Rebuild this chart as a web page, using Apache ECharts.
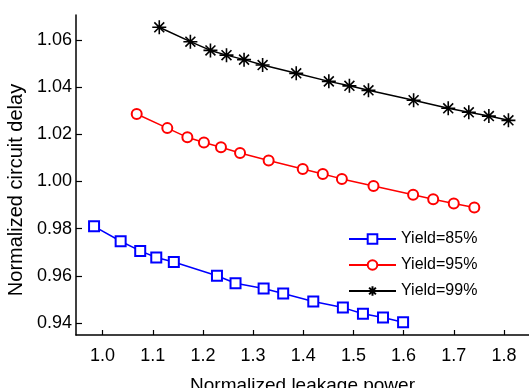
<!DOCTYPE html>
<html>
<head>
<meta charset="utf-8">
<script src="https://cdn.jsdelivr.net/npm/echarts@6/dist/echarts.min.js"></script>
<style>
  html, body { margin: 0; padding: 0; background: #fff; }
  #chart { width: 529px; height: 388px; }
</style>
</head>
<body>
<div id="chart"></div>
<script>
// values
const xTicks = [1.0, 1.1, 1.2, 1.3, 1.4, 1.5, 1.6, 1.7, 1.8];
const yTicks = [0.94, 0.96, 0.98, 1.00, 1.02, 1.04, 1.06];

const names = ['Yield=85%', 'Yield=95%', 'Yield=99%'];

const x85 = [0.983, 1.036, 1.075, 1.107, 1.142, 1.228, 1.265, 1.321, 1.360, 1.420, 1.479, 1.519, 1.559, 1.599];
const y85 = [0.9810, 0.9747, 0.9706, 0.9678, 0.9659, 0.9601, 0.9569, 0.9547, 0.9526, 0.9492, 0.9466, 0.9440, 0.9424, 0.9404];

const x95 = [1.068, 1.129, 1.169, 1.202, 1.236, 1.274, 1.331, 1.399, 1.439, 1.477, 1.540, 1.619, 1.659, 1.700, 1.741];
const y95 = [1.0286, 1.0226, 1.0187, 1.0165, 1.0145, 1.0121, 1.0089, 1.0053, 1.0032, 1.0011, 0.9981, 0.9944, 0.9925, 0.9907, 0.9890];

const x99 = [1.113, 1.175, 1.215, 1.247, 1.282, 1.319, 1.386, 1.451, 1.492, 1.530, 1.620, 1.689, 1.730, 1.770, 1.809];
const y99 = [1.0653, 1.0592, 1.0555, 1.0535, 1.0516, 1.0493, 1.0458, 1.0424, 1.0405, 1.0386, 1.0344, 1.0310, 1.0293, 1.0277, 1.0259];

const pairs = (xs, ys) => xs.map((x, i) => [x, ys[i]]);

const FONT = "'Liberation Sans', Arial, sans-serif";
// asterisk marker (+ and x overlaid)
const STAR = 'path://M0,-10L0,10M-10,0L10,0M-7.07,-7.07L7.07,7.07M-7.07,7.07L7.07,-7.07';

const chart = echarts.init(document.getElementById('chart'));

const axisCommon = {
  axisLine: { show: true, lineStyle: { color: '#000', width: 1.5 } },
  splitLine: { show: false },
};

chart.setOption({
  animation: false,
  backgroundColor: '#fff',
  // the figure is cropped at the bottom, so don't let ECharts shrink the grid
  grid: { left: 76, right: 0, top: 15, bottom: 53, containLabel: false, outerBoundsMode: 'none' },
  legend: {
    data: names,
    orient: 'vertical',
    left: 343,
    top: 226,
    itemWidth: 47,
    itemHeight: 12,
    itemGap: 10,
    textStyle: { color: '#000', fontSize: 16, fontFamily: FONT },
  },
  xAxis: {
    ...axisCommon,
    type: 'value',
    min: 0.947,
    max: 1.85,
    name: 'Normalized leakage power',
    nameLocation: 'middle',
    nameGap: 41,
    nameTextStyle: { color: '#000', fontSize: 19, fontFamily: FONT },
    axisTick: { show: true, inside: true, length: 5, customValues: xTicks, lineStyle: { color: '#000', width: 1.2 } },
    axisLabel: {
      customValues: xTicks,
      margin: 12,
      color: '#000',
      fontSize: 18,
      fontFamily: FONT,
      formatter: v => v.toFixed(1),
    },
  },
  yAxis: {
    ...axisCommon,
    type: 'value',
    min: 0.935,
    max: 1.0705,
    name: 'Normalized circuit delay',
    nameLocation: 'middle',
    nameGap: 47,
    nameTextStyle: { color: '#000', fontSize: 20, fontFamily: FONT, padding: [0, 30, 0, 0] },
    axisTick: { show: true, inside: true, length: 6, customValues: yTicks, lineStyle: { color: '#000', width: 1.2 } },
    axisLabel: {
      customValues: yTicks,
      margin: 4,
      color: '#000',
      fontSize: 18,
      fontFamily: FONT,
      formatter: v => v.toFixed(2),
    },
  },
  series: [
    {
      name: names[0],
      type: 'line',
      data: pairs(x85, y85),
      symbol: 'emptyRect',
      symbolSize: 10,
      lineStyle: { color: '#0000ff', width: 1.5 },
      itemStyle: { color: '#0000ff', borderWidth: 1.5 },
    },
    {
      name: names[1],
      type: 'line',
      data: pairs(x95, y95),
      symbol: 'emptyCircle',
      symbolSize: 10,
      lineStyle: { color: '#ff0000', width: 1.5 },
      itemStyle: { color: '#ff0000', borderWidth: 1.5 },
    },
    {
      name: names[2],
      type: 'line',
      data: pairs(x99, y99),
      symbol: STAR,
      symbolSize: 14,
      symbolKeepAspect: true,
      lineStyle: { color: '#000', width: 1.5 },
      itemStyle: { color: '#000', borderColor: '#000', borderWidth: 1.6 },
    },
  ],
});
</script>
</body>
</html>
